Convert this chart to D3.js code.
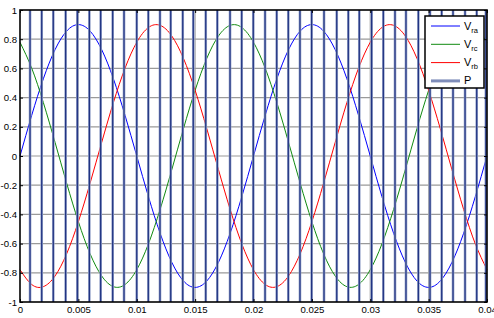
<!DOCTYPE html>
<html>
<head>
<meta charset="utf-8">
<script src="https://cdn.jsdelivr.net/npm/d3@7"></script>
<style>
  html, body { margin: 0; padding: 0; background: #fff; }
  svg { display: block; font-family: "Liberation Sans", Arial, sans-serif; }
</style>
</head>
<body>
<svg id="chart" width="494" height="318"></svg>
<script>
// ---------- data ----------
const timeSamples = [0,0.001,0.002,0.003,0.004,0.005,0.006,0.007,0.008,0.009,0.010,
  0.011,0.012,0.013,0.014,0.015,0.016,0.017,0.018,0.019,0.020,
  0.021,0.022,0.023,0.024,0.025,0.026,0.027,0.028,0.029,0.030,
  0.031,0.032,0.033,0.034,0.035,0.036,0.037,0.038,0.039,0.040];
const vRa = [0,0.278,0.529,0.728,0.856,0.9,0.856,0.728,0.529,0.278,0,
  -0.278,-0.529,-0.728,-0.856,-0.9,-0.856,-0.728,-0.529,-0.278,0,
  0.278,0.529,0.728,0.856,0.9,0.856,0.728,0.529,0.278,0,
  -0.278,-0.529,-0.728,-0.856,-0.9,-0.856,-0.728,-0.529,-0.278,0];
const vRc = [0.779,0.602,0.366,0.094,-0.187,-0.45,-0.669,-0.822,-0.895,-0.880,-0.779,
  -0.602,-0.366,-0.094,0.187,0.45,0.669,0.822,0.895,0.880,0.779,
  0.602,0.366,0.094,-0.187,-0.45,-0.669,-0.822,-0.895,-0.880,-0.779,
  -0.602,-0.366,-0.094,0.187,0.45,0.669,0.822,0.895,0.880,0.779];
const vRb = [-0.779,-0.880,-0.895,-0.822,-0.669,-0.45,-0.187,0.094,0.366,0.602,0.779,
  0.880,0.895,0.822,0.669,0.45,0.187,-0.094,-0.366,-0.602,-0.779,
  -0.880,-0.895,-0.822,-0.669,-0.45,-0.187,0.094,0.366,0.602,0.779,
  0.880,0.895,0.822,0.669,0.45,0.187,-0.094,-0.366,-0.602,-0.779];
// switching instants of the pulse signal P (levels alternate between the two rails)
const pEdgeTimes = [0.00086,0.00186,0.00285,0.00391,0.00491,0.00594,0.00691,0.00794,0.00891,0.01000,
  0.01099,0.01199,0.01291,0.01394,0.01484,0.01591,0.01690,0.01799,0.01899,0.01998,
  0.02099,0.02199,0.02298,0.02398,0.02498,0.02604,0.02713,0.02812,0.02906,0.03012,
  0.03112,0.03212,0.03306,0.03412,0.03512,0.03612,0.03709,0.03812,0.03912,0.03990];
const pLevels = [1.05,-1.05];
const xTicks = [0,0.005,0.01,0.015,0.02,0.025,0.03,0.035,0.04];
const xTickLabels = ["0","0.005","0.01","0.015","0.02","0.025","0.03","0.035","0.04"];
const yTicks = [-1,-0.8,-0.6,-0.4,-0.2,0,0.2,0.4,0.6,0.8,1];
const yTickLabels = ["-1","-0.8","-0.6","-0.4","-0.2","0","0.2","0.4","0.6","0.8","1"];
const seriesNames = ["ra","rc","rb"];

// ---------- layout ----------
const svg = d3.select("#chart");
const L = 20, R = 487, T = 10, B = 302;
const x = d3.scaleLinear().domain([0, 0.04]).range([L, R]);
const y = d3.scaleLinear().domain([-1, 1]).range([B, T]);

svg.append("defs").append("clipPath").attr("id", "plotclip")
  .append("rect").attr("x", L).attr("y", T).attr("width", R - L).attr("height", B - T);

const g = svg.append("g");

// grid
g.append("g").selectAll("line").data(xTicks.slice(1, -1)).join("line")
  .attr("x1", d => x(d)).attr("x2", d => x(d)).attr("y1", T).attr("y2", B)
  .attr("stroke", "#a8a8a8").attr("stroke-width", 1.2);
g.append("g").selectAll("line").data(yTicks.slice(1, -1)).join("line")
  .attr("x1", L).attr("x2", R).attr("y1", d => y(d)).attr("y2", d => y(d))
  .attr("stroke", "#9a9a9a").attr("stroke-width", 1.2);

// sine series
const line = d3.line().x((d, i) => x(timeSamples[i])).y(d => y(d)).curve(d3.curveNatural);
const sines = [[vRa, "#0000ff"], [vRc, "#108a10"], [vRb, "#ff0000"]];
sines.forEach(([vals, col]) => {
  g.append("path").attr("d", line(vals)).attr("fill", "none")
    .attr("stroke", col).attr("stroke-width", 1);
});

// pulse signal P
const pPts = [[0, pLevels[1]]].concat(pEdgeTimes.map((t, i) => [t, pLevels[i % 2]]));
pPts.push([0.04, pPts[pPts.length - 1][1]]);
const pLine = d3.line().x(d => x(d[0])).y(d => y(d[1])).curve(d3.curveStepAfter);
const pg = g.append("g").attr("clip-path", "url(#plotclip)");
pg.append("path").attr("d", pLine(pPts)).attr("fill", "none")
  .attr("stroke", "#93a0c8").attr("stroke-width", 2.6);
pg.append("path").attr("d", pLine(pPts)).attr("fill", "none")
  .attr("stroke", "#16297c").attr("stroke-width", 1.1);

// axes
const tickLen = 3;
const axB = d3.axisBottom(x).tickValues(xTicks).tickFormat((d, i) => xTickLabels[i]).tickSizeInner(-tickLen).tickSizeOuter(0).tickPadding(4);
const axL = d3.axisLeft(y).tickValues(yTicks).tickFormat((d, i) => yTickLabels[i]).tickSizeInner(-tickLen).tickSizeOuter(0).tickPadding(3);
const axT = d3.axisTop(x).tickValues(xTicks).tickFormat("").tickSizeInner(-tickLen).tickSizeOuter(0);
const axR = d3.axisRight(y).tickValues(yTicks).tickFormat("").tickSizeInner(-tickLen).tickSizeOuter(0);
[[axB, `translate(0,${B})`], [axL, `translate(${L},0)`], [axT, `translate(0,${T})`], [axR, `translate(${R},0)`]]
  .forEach(([ax, tr]) => {
    const a = svg.append("g").attr("transform", tr).call(ax);
    a.select(".domain").remove();
    a.selectAll(".tick line").attr("stroke", "#000").attr("stroke-width", 1);
    a.selectAll(".tick text").attr("font-size", 9.6).attr("fill", "#000")
      .attr("font-family", "Liberation Sans, Arial, sans-serif");
  });
svg.append("rect").attr("x", L).attr("y", T).attr("width", R - L).attr("height", B - T)
  .attr("fill", "none").attr("stroke", "#000").attr("stroke-width", 1.6);

// legend
const lg = svg.append("g");
lg.append("rect").attr("x", 425).attr("y", 16).attr("width", 59).attr("height", 72)
  .attr("fill", "#fff").attr("stroke", "#000").attr("stroke-width", 1.5);
const legendItems = [
  {name: "V", sub: seriesNames[0], color: "#0000ff", w: 1},
  {name: "V", sub: seriesNames[1], color: "#108a10", w: 1},
  {name: "V", sub: seriesNames[2], color: "#ff0000", w: 1},
  {name: "P", sub: "", color: "#7f8dba", w: 3}
];
legendItems.forEach((it, i) => {
  const yy = 26 + i * 18.3;
  lg.append("line").attr("x1", 431).attr("x2", 460).attr("y1", yy).attr("y2", yy)
    .attr("stroke", it.color).attr("stroke-width", it.w);
  const t = lg.append("text").attr("x", 464).attr("y", yy + 3.5)
    .attr("font-size", 11).attr("fill", "#000");
  t.append("tspan").text(it.name);
  if (it.sub) t.append("tspan").attr("font-size", 7.5).attr("dy", 3).text(it.sub);
});
</script>
</body>
</html>
